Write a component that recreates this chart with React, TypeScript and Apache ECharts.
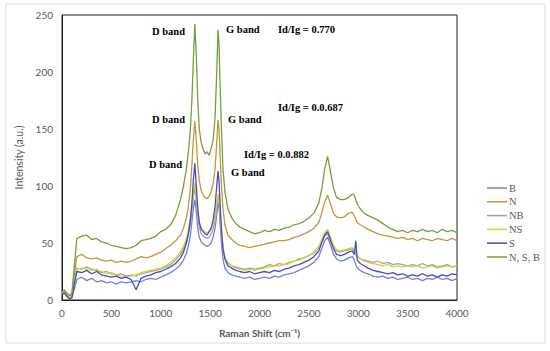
import React, { useEffect, useRef } from "react";
import * as echarts from "echarts";

const ramanShift = [
  0, 25, 50, 75, 100, 125, 150,
  200, 250, 300, 350, 400, 450, 500, 550, 600, 650,
  700, 750, 800, 850, 900, 950, 1000, 1050, 1100, 1150,
  1200, 1230, 1260, 1280, 1300, 1315, 1330, 1345, 1360, 1375,
  1390, 1410, 1430, 1450, 1470, 1490, 1510, 1530, 1550, 1565,
  1580, 1590, 1600, 1615, 1630, 1650, 1680, 1720, 1760, 1800,
  1850, 1900, 1950, 2000, 2050, 2100, 2150, 2200, 2250, 2300,
  2350, 2400, 2450, 2500, 2550, 2600, 2630, 2660, 2690, 2720,
  2750, 2780, 2820, 2860, 2900, 2940, 2960, 2975, 2990, 3020,
  3060, 3100, 3150, 3200, 3250, 3300, 3350, 3400, 3450, 3500,
  3550, 3600, 3650, 3700, 3750, 3800, 3850, 3900, 3950, 4000,
];

const seriesNames = ["B", "N", "NB", "NS", "S", "N, S, B"];

const valuesB = [
  5, 6, 4, 1, 2, 10, 18,
  20, 17, 19, 16, 17, 15, 16, 14, 16, 15,
  16, 17, 16, 18, 19, 18, 20, 22, 24, 27,
  31, 35, 41, 48, 57, 68, 80, 88, 78, 63,
  55, 51, 49, 48, 47, 48, 50, 55, 63, 73,
  85, 82, 68, 50, 36, 28, 24, 22, 21, 20,
  19, 20, 18, 19, 20, 19, 21, 20, 22, 23,
  24, 26, 28, 30, 33, 38, 45, 52, 55, 48,
  40, 36, 34, 35, 37, 38, 35, 31, 28, 26,
  24, 23, 21, 20, 21, 19, 20, 18, 19, 20,
  18, 19, 17, 19, 18, 20, 18, 19, 17, 19,
];

const valuesN = [
  6, 7, 5, 3, 4, 22, 38,
  40, 37, 36, 37, 35, 34, 35, 33, 34, 33,
  34, 36, 38, 37, 38, 40, 42, 45, 48, 52,
  57, 63, 72, 82, 98, 118, 140, 157, 140, 118,
  105, 96, 92, 90, 89, 91, 95, 102, 115, 135,
  158, 150, 130, 100, 80, 66, 57, 53, 50, 48,
  47, 46, 47, 48, 49, 50, 51, 52, 52, 53,
  55, 56, 58, 60, 63, 68, 76, 86, 92, 84,
  76, 73, 72, 73, 76, 77, 74, 71, 68, 66,
  64, 62, 60, 58, 57, 56, 55, 54, 55, 53,
  54, 52, 54, 53, 52, 54, 53, 52, 54, 52,
];

const valuesNB = [
  6, 9, 5, 3, 4, 17, 28,
  27, 29, 27, 26, 24, 25, 23, 22, 23, 21,
  22, 21, 23, 24, 25, 26, 27, 29, 31, 35,
  40, 45, 51, 58, 67, 78, 90, 98, 88, 74,
  64, 58, 56, 55, 54, 55, 58, 62, 70, 80,
  90, 88, 75, 58, 45, 37, 32, 30, 29, 28,
  27, 28, 27, 28, 29, 31, 30, 32, 31, 33,
  34, 36, 37, 39, 41, 46, 51, 56, 58, 53,
  47, 43, 42, 43, 44, 45, 43, 40, 38, 36,
  35, 34, 33, 34, 32, 33, 31, 32, 31, 30,
  31, 30, 32, 30, 31, 29, 30, 31, 29, 30,
];

const valuesNS = [
  7, 8, 6, 2, 3, 16, 27,
  28, 27, 26, 27, 25, 23, 24, 22, 21, 20,
  21, 22, 24, 25, 26, 27, 28, 30, 33, 37,
  42, 47, 54, 62, 72, 83, 95, 103, 92, 78,
  68, 63, 61, 60, 59, 60, 62, 66, 74, 85,
  93, 90, 78, 60, 46, 38, 33, 30, 28, 27,
  26, 27, 26, 27, 28, 29, 30, 30, 31, 32,
  34, 35, 37, 39, 42, 47, 53, 59, 62, 55,
  48, 44, 43, 44, 45, 46, 44, 41, 39, 36,
  34, 33, 32, 31, 30, 31, 29, 30, 29, 30,
  29, 30, 28, 29, 30, 28, 29, 30, 29, 30,
];

const valuesS = [
  5, 6, 3, 1, 2, 14, 25,
  24, 26, 23, 25, 22, 21, 20, 21, 19, 20,
  18, 9, 19, 21, 22, 24, 25, 27, 29, 32,
  37, 42, 50, 58, 70, 85, 105, 120, 100, 80,
  68, 62, 60, 58, 57, 60, 63, 70, 82, 98,
  113, 105, 85, 62, 45, 36, 30, 28, 26, 25,
  24, 25, 23, 24, 25, 24, 26, 25, 27, 28,
  30, 31, 33, 35, 38, 43, 50, 57, 60, 52,
  45, 40, 39, 40, 42, 43, 40, 52, 35, 32,
  30, 28, 26, 25, 24, 23, 24, 22, 23, 21,
  22, 21, 23, 21, 22, 20, 22, 21, 23, 22,
];

const valuesNSB = [
  7, 8, 6, 4, 6, 30, 54,
  56, 57, 53, 54, 51, 50, 48, 47, 46, 45,
  46, 48, 52, 53, 54, 56, 60, 62, 66, 74,
  88, 100, 115, 130, 150, 175, 210, 242, 215, 175,
  150, 138, 132, 128, 130, 127, 133, 140, 160, 195,
  237, 225, 190, 150, 115, 95, 80, 72, 67, 64,
  62, 60, 58, 59, 61, 60, 62, 61, 63, 64,
  66, 67, 69, 72, 76, 85, 97, 115, 126, 112,
  98, 90, 88, 88, 90, 93, 92, 88, 84, 80,
  76, 74, 72, 70, 67, 64, 62, 60, 61, 59,
  61, 60, 62, 60, 61, 59, 62, 60, 61, 59,
];

const seriesValues = [valuesB, valuesN, valuesNB, valuesNS, valuesS, valuesNSB];
const seriesColors = ["#7080E0", "#C2963A", "#A89CB0", "#CCDC24", "#4A4AC0", "#72A03E"];

const xTicks = { min: 0, max: 4000, interval: 500 };
const yTicks = { min: 0, max: 250, interval: 50 };

const annotations = [
  { text: "D band", x: 152, y: 31 },
  { text: "G band", x: 226, y: 29 },
  { text: "Id/Ig = 0.770", x: 278, y: 29 },
  { text: "Id/Ig = 0.0.687", x: 278, y: 107 },
  { text: "D band", x: 152, y: 119 },
  { text: "G band", x: 228, y: 119 },
  { text: "Id/Ig = 0.0.882", x: 244, y: 154 },
  { text: "D band", x: 149, y: 164 },
  { text: "G band", x: 231, y: 172 },
];

export default function App() {
  const ref = useRef<HTMLDivElement>(null);
  useEffect(() => {
    if (!ref.current) return;
    const chart = echarts.init(ref.current, undefined, { renderer: "svg" });
    const axisFont = { fontFamily: "Lato", fontSize: 10, color: "#595959" };
    chart.setOption({
      animation: false,
      backgroundColor: "#ffffff",
      grid: {
        left: 62,
        right: 93,
        top: 15,
        bottom: 51,
        show: true,
        borderColor: "#222",
        borderWidth: 1,
      },
      legend: {
        orient: "vertical",
        left: 482,
        top: 177,
        itemWidth: 20,
        itemHeight: 1.5,
        itemGap: 1.8,
        icon: "rect",
        data: seriesNames,
        textStyle: {
          fontFamily: "Liberation Serif",
          fontSize: 10.5,
          lineHeight: 12,
          color: "#595959",
          padding: [0, 0, 0, -3],
        },
      },
      xAxis: {
        type: "value",
        min: xTicks.min,
        max: xTicks.max,
        interval: xTicks.interval,
        name: "Raman Shift (cm⁻¹)",
        nameLocation: "middle",
        nameGap: 28,
        nameTextStyle: { ...axisFont, fontWeight: "bold" },
        axisLine: { show: true, lineStyle: { color: "#222" } },
        axisTick: { show: false },
        splitLine: { show: false },
        axisLabel: { ...axisFont, margin: 8, formatter: (v: number) => String(v) },
      },
      yAxis: {
        type: "value",
        min: yTicks.min,
        max: yTicks.max,
        interval: yTicks.interval,
        name: "Intensity (a.u.)",
        nameLocation: "middle",
        nameGap: 35,
        nameTextStyle: { ...axisFont, fontSize: 10.5 },
        axisLine: { show: true, lineStyle: { color: "#222" } },
        axisTick: { show: false },
        splitLine: { show: false },
        axisLabel: { ...axisFont, margin: 9, formatter: (v: number) => String(v) },
      },
      graphic: [
        {
          type: "rect",
          shape: { x: 6, y: 4, width: 539, height: 339 },
          style: { fill: "none", stroke: "#dcdcdc", lineWidth: 1 },
          silent: true,
        },
        ...annotations.map((a) => ({
          type: "text",
          x: a.x,
          y: a.y,
          style: {
            text: a.text,
            fontFamily: "Liberation Serif",
            fontWeight: "bold",
            fontSize: 10.5,
            fill: "#000",
            verticalAlign: "middle",
            align: "left",
          },
          silent: true,
        })),
      ],
      series: seriesNames.map((name, i) => ({
        name,
        type: "line",
        showSymbol: false,
        symbol: "none",
        color: seriesColors[i],
        lineStyle: { width: 1.3, color: seriesColors[i] },
        data: ramanShift.map((x, j) => [x, seriesValues[i][j]]),
      })),
    });
    return () => chart.dispose();
  }, []);
  return (
    <div
      ref={ref}
      style={{ position: "fixed", left: 0, top: 0, width: 550, height: 351 }}
    />
  );
}
